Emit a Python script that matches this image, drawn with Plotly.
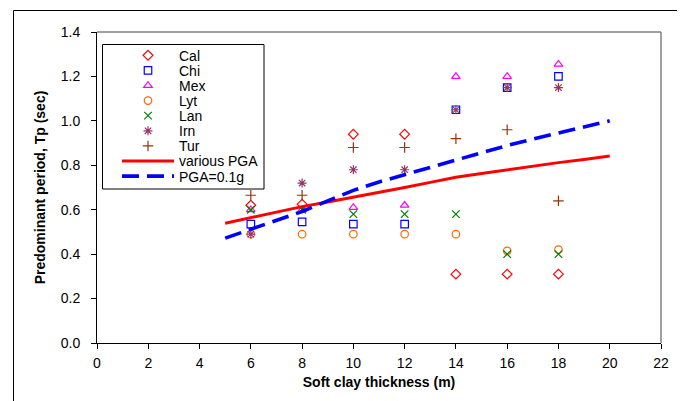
import plotly.graph_objects as go

# ---- data ----
thickness = [6, 8, 10, 12, 14, 16, 18]
cal = [0.62, 0.625, 0.94, 0.94, 0.31, 0.31, 0.31]
chi = [0.535, 0.545, 0.535, 0.535, 1.05, 1.15, 1.20]
mex = [0.60, 0.60, 0.61, 0.62, 1.20, 1.20, 1.255]
lyt = [0.49, 0.49, 0.49, 0.49, 0.49, 0.415, 0.42]
lan = [0.60, 0.60, 0.58, 0.58, 0.58, 0.40, 0.40]
irn = [0.49, 0.72, 0.78, 0.78, 1.05, 1.15, 1.15]
tur = [0.665, 0.665, 0.88, 0.88, 0.92, 0.96, 0.64]

line_x = [5, 6, 7, 8, 9, 10, 11, 12, 13, 14, 15, 16, 17, 18, 19, 20]
various_pga = [0.539, 0.565, 0.59, 0.614, 0.635, 0.656, 0.678, 0.70, 0.723,
               0.746, 0.763, 0.78, 0.797, 0.812, 0.826, 0.842]
pga_01g = [0.472, 0.512, 0.552, 0.592, 0.64, 0.687, 0.725, 0.758, 0.792,
           0.825, 0.857, 0.889, 0.918, 0.946, 0.973, 1.0]

x_ticks = list(range(0, 23, 2))
y_ticks = [0.0, 0.2, 0.4, 0.6, 0.8, 1.0, 1.2, 1.4]

FONT = "Liberation Sans, Arial, sans-serif"

series = [
    ("Cal", cal, "diamond-open", "#FF0000"),
    ("Chi", chi, "square-open", "#0000FF"),
    ("Mex", mex, "triangle-up-open", "#FF00FF"),
    ("Lyt", lyt, "circle-open", "#FF6600"),
    ("Lan", lan, "x-thin-open", "#008000"),
    ("Irn", irn, "asterisk-open", "#993366"),
    ("Tur", tur, "cross-thin-open", "#993300"),
]

# page body margin offsets the figure by 8px; work in reference pixels
OFF = 8
W, H = 685 - OFF, 401 - OFF
L, R, T, B = 97, 661, 32, 343          # plot area in reference pixels
PW, PH = R - L, B - T


def px(xp):
    return (xp - L) / PW


def py(yp):
    return (B - yp) / PH


fig = go.Figure()
legend_names = ["legend"] + [f"legend{i}" for i in range(2, 10)]
entry_y = [55.7 + 15.1 * i for i in range(9)]

for i, (name, vals, sym, col) in enumerate(series):
    fig.add_trace(go.Scatter(
        x=thickness, y=vals, mode="markers", name=name,
        legend=legend_names[i],
        marker=dict(symbol=sym, size=7.5, color=col,
                    line=dict(color=col, width=1.2)),
    ))

fig.add_trace(go.Scatter(
    x=line_x, y=various_pga, mode="lines", name="various PGA",
    legend=legend_names[7],
    line=dict(color="#FF0000", width=3),
))
fig.add_trace(go.Scatter(
    x=line_x, y=pga_01g, mode="lines", name="PGA=0.1g",
    legend=legend_names[8],
    line=dict(color="#0000FF", width=3.6, dash="17px,8px"),
))

legend_layout = {}
for i, ln in enumerate(legend_names):
    legend_layout[ln] = dict(
        x=px(117), y=py(entry_y[i]), xanchor="left", yanchor="middle",
        xref="paper", yref="paper",
        bgcolor="rgba(0,0,0,0)", borderwidth=0,
        font=dict(family=FONT, size=14, color="#000000"),
        itemwidth=52,
    )

fig.update_layout(
    width=W, height=H,
    margin=dict(l=L - OFF, r=(W + OFF) - R, t=T - OFF, b=(H + OFF) - B,
                pad=0, autoexpand=False),
    paper_bgcolor="white", plot_bgcolor="white",
    font=dict(family=FONT, size=14, color="#000000"),
    showlegend=True,
    **legend_layout,
    xaxis=dict(
        range=[0, 22], tickvals=x_ticks, ticktext=[str(v) for v in x_ticks],
        showgrid=False, zeroline=False, showline=True, linecolor="#000000",
        linewidth=1, ticks="outside", ticklen=5, tickcolor="#000000",
        tickfont=dict(family=FONT, size=14), ticklabelstandoff=2,
        automargin=False,
        title=dict(text="<b>Soft clay thickness (m)</b>", standoff=7,
                   font=dict(family=FONT, size=14)),
    ),
    yaxis=dict(
        range=[0, 1.4], tickvals=y_ticks, ticktext=[f"{v:.1f}" for v in y_ticks],
        showgrid=False, zeroline=False, showline=True, linecolor="#000000",
        linewidth=1, ticks="outside", ticklen=5, tickcolor="#000000",
        tickfont=dict(family=FONT, size=14), ticklabelstandoff=8,
        automargin=False,
        title=dict(text="<b>Predominant period, Tp (sec)</b>", standoff=11,
                   font=dict(family=FONT, size=14)),
    ),
    shapes=[
        # outer chart frame (bottom edge lies just outside the view)
        dict(type="rect", xref="paper", yref="paper",
             x0=px(13.5), x1=px(679.5), y0=py(403), y1=py(10.5),
             line=dict(color="#000000", width=1), fillcolor="rgba(0,0,0,0)",
             layer="above"),
        # plot area top and right border (gray)
        dict(type="line", xref="paper", yref="paper", x0=0, x1=1, y0=1, y1=1,
             line=dict(color="#808080", width=1.5)),
        dict(type="line", xref="paper", yref="paper", x0=1, x1=1, y0=0, y1=1,
             line=dict(color="#808080", width=1.5)),
        # legend box
        dict(type="rect", xref="paper", yref="paper",
             x0=px(102.5), x1=px(264), y0=py(189), y1=py(44.5),
             line=dict(color="#000000", width=1), fillcolor="white",
             layer="below"),
    ],
)

fig.write_html("out.html")
